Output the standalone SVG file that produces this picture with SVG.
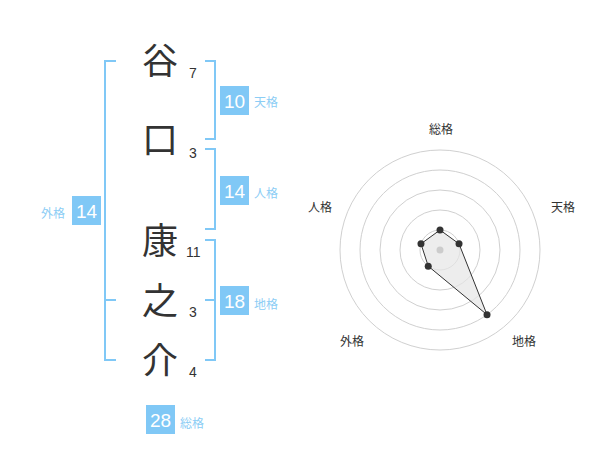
<svg xmlns="http://www.w3.org/2000/svg" width="600" height="470" viewBox="0 0 600 470">
<style>
text{font-family:"Liberation Sans","Noto Sans CJK JP",sans-serif}
.ch{font-size:36px;fill:#333;text-anchor:middle}
.st{font-size:14px;fill:#333}
.br{fill:none;stroke:#80c8f6;stroke-width:2}
.bx{fill:#80c8f6}
.bn{font-size:19px;fill:#fff;text-anchor:middle}
.bl{font-size:12px;fill:#8ccdf5}
.ring{fill:none;stroke:#d0d0d0;stroke-width:1}
.ax{font-size:12px;fill:#333;text-anchor:middle}
.pt{fill:#333}
</style>
<rect width="600" height="470" fill="#fff"/>
<g id="chars">
<g id="c1"><text class="ch" x="160" y="74">谷</text><text class="st" x="189" y="78">7</text></g>
<g id="c2"><text class="ch" x="160" y="153">口</text><text class="st" x="189" y="158">3</text></g>
<g id="c3"><text class="ch" x="160" y="254">康</text><text class="st" x="186" y="257">11</text></g>
<g id="c4"><text class="ch" x="160" y="314">之</text><text class="st" x="189" y="317">3</text></g>
<g id="c5"><text class="ch" x="160" y="374">介</text><text class="st" x="189" y="377">4</text></g>
</g>
<g id="connectors">
<path class="br" d="M116,61 H105 V360 H116 M105,300 H116"/>
<path class="br" d="M205,61 H215 V139 H205"/>
<path class="br" d="M205,149 H215 V229 H205"/>
<path class="br" d="M205,240 H215 V360 H205 M205,300 H215"/>
</g>
<g id="tenkaku"><rect class="bx" x="220" y="86" width="29" height="29"/><text class="bn" x="234.5" y="108">10</text><text class="bl" x="254" y="107">天格</text></g>
<g id="jinkaku"><rect class="bx" x="220" y="176" width="29" height="29"/><text class="bn" x="234.5" y="198">14</text><text class="bl" x="254" y="198">人格</text></g>
<g id="chikaku"><rect class="bx" x="220" y="286" width="29" height="29"/><text class="bn" x="234.5" y="308">18</text><text class="bl" x="254" y="309">地格</text></g>
<g id="gaikaku"><rect class="bx" x="72" y="196" width="29" height="29"/><text class="bn" x="86.5" y="218">14</text><text class="bl" x="41" y="218">外格</text></g>
<g id="soukaku"><rect class="bx" x="146" y="405" width="29" height="29"/><text class="bn" x="160.5" y="427">28</text><text class="bl" x="180" y="428">総格</text></g>
<g id="radar">
<circle class="ring" cx="440" cy="250" r="20"/>
<circle class="ring" cx="440" cy="250" r="40"/>
<circle class="ring" cx="440" cy="250" r="60"/>
<circle class="ring" cx="440" cy="250" r="80"/>
<circle class="ring" cx="440" cy="250" r="100"/>
<polygon points="440,230 459.02,243.82 487.02,314.72 428.24,266.18 420.98,243.82" fill="#e6e6e6" fill-opacity="0.7" stroke="#333" stroke-width="1"/>
<circle cx="440" cy="250" r="3.5" fill="#ccc"/>
<circle class="pt" cx="440" cy="230" r="3.5"/>
<circle class="pt" cx="459.02" cy="243.82" r="3.5"/>
<circle class="pt" cx="487.02" cy="314.72" r="3.5"/>
<circle class="pt" cx="428.24" cy="266.18" r="3.5"/>
<circle class="pt" cx="420.98" cy="243.82" r="3.5"/>
<text class="ax" x="441" y="134">総格</text>
<text class="ax" x="563" y="212">天格</text>
<text class="ax" x="320" y="212">人格</text>
<text class="ax" x="352" y="346">外格</text>
<text class="ax" x="524" y="346">地格</text>
</g>
</svg>
